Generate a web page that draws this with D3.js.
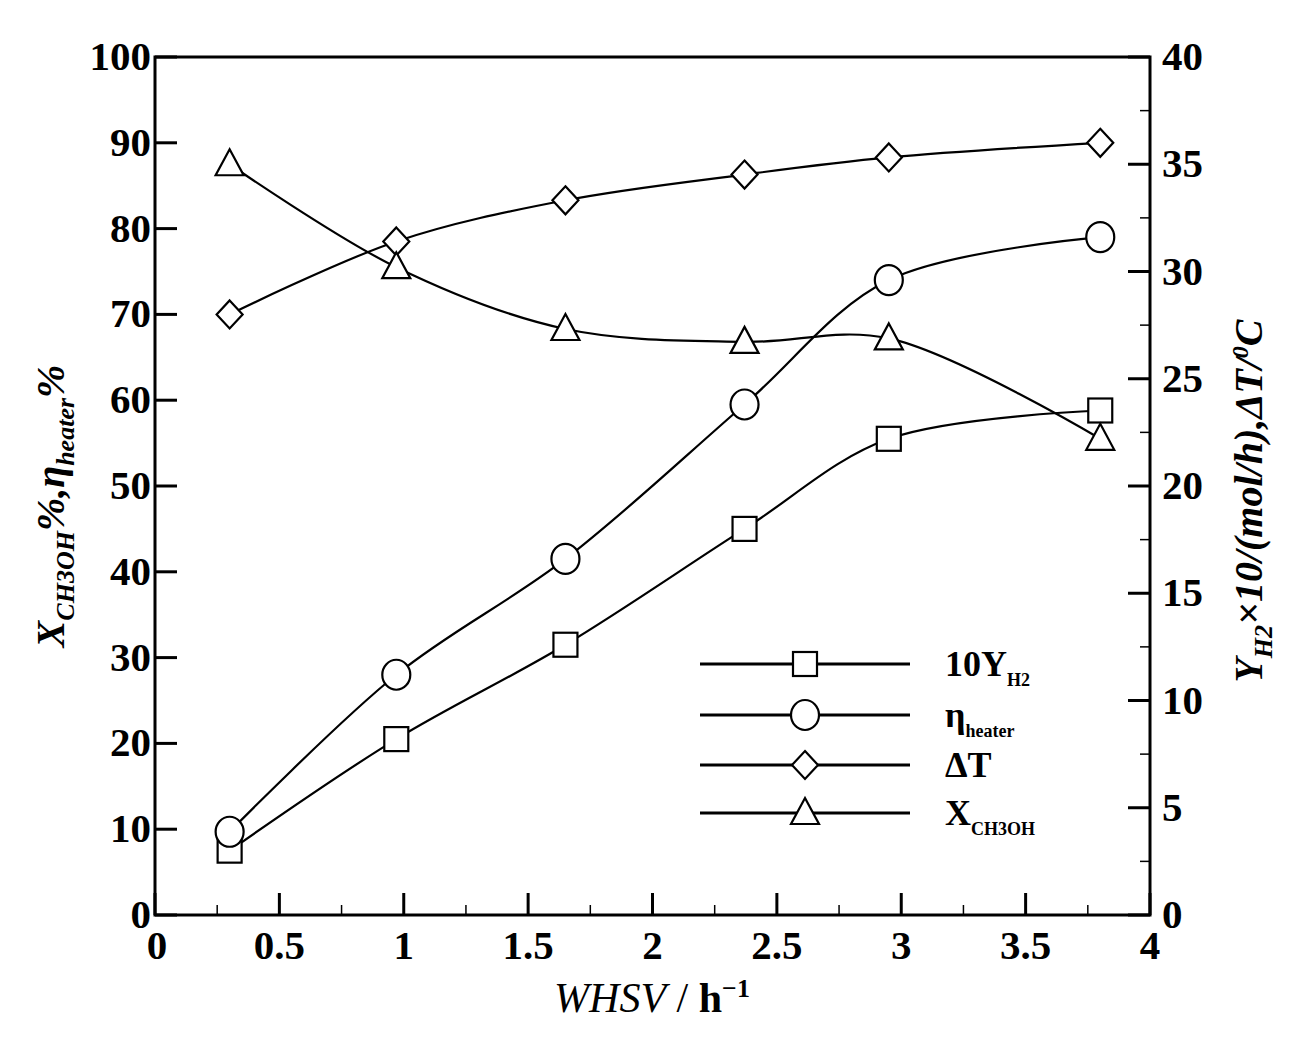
<!DOCTYPE html>
<html>
<head>
<meta charset="utf-8">
<script src="https://d3js.org/d3.v7.min.js"></script>
<style>
  body { margin: 0; background: #fff; }
  text { font-family: "Liberation Serif", "DejaVu Serif", serif; fill: #000; }
</style>
</head>
<body>
<svg id="chart" width="1304" height="1038"></svg>
<script>
// data (left-axis units)
const whsv = [0.3, 0.97, 1.65, 2.37, 2.95, 3.8];
const y10H2 = [7.5, 20.5, 31.5, 45, 55.5, 58.8];
const etaHeater = [9.7, 28, 41.5, 59.5, 74, 79];
const deltaT = [70, 78.5, 83.3, 86.3, 88.3, 90];
const xCH3OH = [87.5, 75.5, 68.3, 66.8, 67.2, 55.5];

const xTicks = [0, 0.5, 1, 1.5, 2, 2.5, 3, 3.5, 4];
const xTickLabels = ["0", "0.5", "1", "1.5", "2", "2.5", "3", "3.5", "4"];
const leftTicks = [0, 10, 20, 30, 40, 50, 60, 70, 80, 90, 100];
const rightTicks = [0, 5, 10, 15, 20, 25, 30, 35, 40];

const series = [
  { name: "10Y", sub: "H2", values: y10H2, shape: "square" },
  { name: "η", sub: "heater", values: etaHeater, shape: "circle" },
  { name: "ΔT", sub: "", values: deltaT, shape: "diamond" },
  { name: "X", sub: "CH3OH", values: xCH3OH, shape: "triangle" },
];

const svg = d3.select("#chart");
const L = 155, R = 1150, T = 57, B = 915;

const x = d3.scaleLinear().domain([0, 4]).range([L, R]);
const yL = d3.scaleLinear().domain([0, 100]).range([B, T]);
const yR = d3.scaleLinear().domain([0, 40]).range([B, T]);

// frame
svg.append("rect").attr("x", L).attr("y", T).attr("width", R - L).attr("height", B - T)
  .attr("fill", "none").attr("stroke", "#000").attr("stroke-width", 3);

const tickG = svg.append("g").attr("stroke", "#000").attr("stroke-width", 3);
d3.range(0, 4.01, 0.25).forEach((v) => {
  const major = Math.abs(v * 2 - Math.round(v * 2)) < 1e-6;
  tickG.append("line").attr("x1", x(v)).attr("x2", x(v))
    .attr("y1", B).attr("y2", B - (major ? 22 : 10))
    .attr("stroke-width", major ? 3 : 1.5);
});
leftTicks.forEach((v) => {
  tickG.append("line").attr("x1", L).attr("x2", L + 22).attr("y1", yL(v)).attr("y2", yL(v));
});
d3.range(0, 40.01, 2.5).forEach((v) => {
  const major = v % 5 === 0;
  tickG.append("line").attr("x1", R).attr("x2", R - (major ? 22 : 10))
    .attr("y1", yR(v)).attr("y2", yR(v)).attr("stroke-width", major ? 3 : 1.5);
});

// tick labels
const tl = svg.append("g").attr("font-size", 41).attr("font-weight", "bold");
xTicks.forEach((v, i) => {
  tl.append("text").attr("x", x(v) + (i === 0 ? 2 : 0)).attr("y", B + 44)
    .attr("text-anchor", "middle").text(xTickLabels[i]);
});
leftTicks.forEach((v) => {
  tl.append("text").attr("x", L - 4).attr("y", yL(v) + 13)
    .attr("text-anchor", "end").text(v);
});
rightTicks.forEach((v) => {
  tl.append("text").attr("x", R + 12).attr("y", yR(v) + 13).text(v);
});

// axis titles
svg.append("text").attr("x", 652).attr("y", 1012).attr("text-anchor", "middle")
  .attr("font-size", 42)
  .html('<tspan font-style="italic">WHSV</tspan> / <tspan font-weight="bold">h</tspan><tspan font-weight="bold" dy="-15" font-size="26">−1</tspan>');

svg.append("text").attr("transform", `translate(64,${(T + B) / 2 + 20}) rotate(-90)`)
  .attr("text-anchor", "middle").attr("font-size", 40).attr("font-weight", "bold").attr("font-style", "italic")
  .html('X<tspan font-size="26" dy="10">CH3OH</tspan><tspan dy="-10">%,η</tspan><tspan font-size="26" dy="10">heater</tspan><tspan dy="-10">%</tspan>');

svg.append("text").attr("transform", `translate(1262,${(T + B) / 2 + 15}) rotate(-90)`)
  .attr("text-anchor", "middle").attr("font-size", 40).attr("font-weight", "bold").attr("font-style", "italic")
  .html('Y<tspan font-size="26" dy="10">H2</tspan><tspan dy="-10">×10/(mol/h),ΔT/</tspan><tspan font-size="24" dy="-14">0</tspan><tspan dy="14">C</tspan>');

const drawMarker = (g, shape, cx, cy) => {
  const s = { fill: "#fff", stroke: "#000", "stroke-width": 2.2 };
  let el;
  if (shape === "square") el = g.append("rect").attr("x", cx - 12).attr("y", cy - 12).attr("width", 24).attr("height", 24);
  else if (shape === "circle") el = g.append("ellipse").attr("cx", cx).attr("cy", cy).attr("rx", 14).attr("ry", 15);
  else if (shape === "diamond") el = g.append("path").attr("d", `M${cx},${cy - 14}L${cx + 13},${cy}L${cx},${cy + 14}L${cx - 13},${cy}Z`);
  else el = g.append("path").attr("d", `M${cx},${cy - 15}L${cx + 14},${cy + 11}L${cx - 14},${cy + 11}Z`);
  Object.entries(s).forEach(([k, v]) => el.attr(k, v));
};

const line = d3.line().x((d) => x(d[0])).y((d) => yL(d[1])).curve(d3.curveCatmullRom.alpha(0.5));

series.forEach((s) => {
  const pts = whsv.map((w, i) => [w, s.values[i]]);
  svg.append("path").datum(pts).attr("d", line)
    .attr("fill", "none").attr("stroke", "#000").attr("stroke-width", 2.2);
  const g = svg.append("g");
  pts.forEach((p) => drawMarker(g, s.shape, x(p[0]), yL(p[1])));
});

// legend
const legY = [664, 715, 765, 813];
series.forEach((s, i) => {
  const g = svg.append("g");
  g.append("line").attr("x1", 700).attr("x2", 910).attr("y1", legY[i]).attr("y2", legY[i])
    .attr("stroke", "#000").attr("stroke-width", 3);
  drawMarker(g, s.shape, 805, legY[i]);
  const t = g.append("text").attr("x", 945).attr("y", legY[i] + 12)
    .attr("font-size", 36).attr("font-weight", "bold").text(s.name);
  if (s.sub) t.append("tspan").attr("font-size", 18).attr("dy", 10).text(s.sub);
});
</script>
</body>
</html>
